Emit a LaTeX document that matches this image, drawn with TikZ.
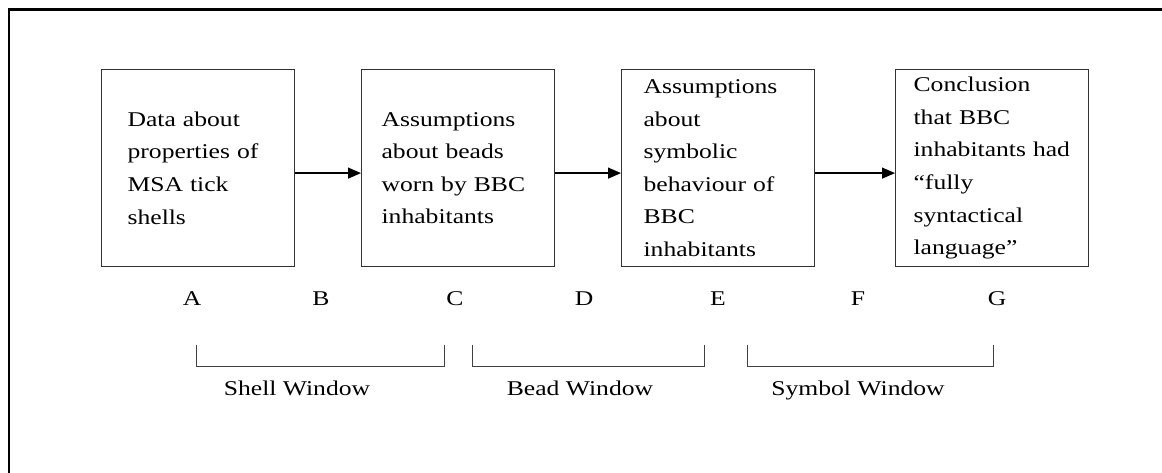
\documentclass[tikz,border=0pt]{standalone}
\usepackage{fontspec}
\setmainfont[FakeStretch=1.22]{Liberation Serif}
\usetikzlibrary{arrows.meta}
\begin{document}
\begin{tikzpicture}[x=1pt,y=-1pt,
  stagebox/.style={draw=black!80, line width=1.2pt, minimum width=193pt, minimum height=197pt,
    inner sep=0pt, align=left, anchor=north west,
    font=\fontsize{21}{32.6}\selectfont},
  flow/.style={line width=1.3pt, -{Triangle[length=13pt,width=11pt]}},
  letter/.style={anchor=base, font=\fontsize{21}{25}\selectfont, inner sep=0pt},
  winlabel/.style={anchor=base, font=\fontsize{21}{25}\selectfont, inner sep=0pt},
  bracket/.style={draw=black!75, line width=1pt},
  frame/.style={line width=2.6pt}
]
\useasboundingbox (0,0) rectangle (1162,473);
\fill[white] (0,0) rectangle (1162,473);
% outer frame (only top and left visible)
\coordinate (fTL) at (9,9.5);
\coordinate (fTR) at (1162,9.5);
\coordinate (fBL) at (9,473);
\draw[frame] (fTR) -- (fTL) -- (fBL);

% boxes
\node[stagebox, text width=141pt] (b1) at (101,69) {Data about\\properties of\\MSA tick\\shells};
\node[stagebox, text width=153pt] (b2) at (361,69) {Assumptions\\about beads\\worn by BBC\\inhabitants};
\node[stagebox, text width=149pt] (b3) at (621,69) {Assumptions\\about\\symbolic\\behaviour of\\BBC\\inhabitants};
\node[stagebox, text width=157pt] (b4) at (895,69) {Conclusion\\that BBC\\inhabitants had\\“fully\\syntactical\\language”};

% arrows
\draw[flow] ([yshift=-5pt]b1.east) -- ([yshift=-5pt]b2.west);
\draw[flow] ([yshift=-5pt]b2.east) -- ([yshift=-5pt]b3.west);
\draw[flow] ([yshift=-5pt]b3.east) -- ([yshift=-5pt]b4.west);

% letters
\node[letter] (A) at (192,305) {A};
\node[letter] (B) at (321,305) {B};
\node[letter] (C) at (455,305) {C};
\node[letter] (D) at (584,305) {D};
\node[letter] (E) at (718,305) {E};
\node[letter] (F) at (858,305) {F};
\node[letter] (G) at (997,305) {G};

% brackets
\coordinate (s1) at (196,345); \coordinate (s2) at (444,345);
\coordinate (d1) at (472,345); \coordinate (d2) at (704,345);
\coordinate (y1) at (747,345); \coordinate (y2) at (993,345);
\draw[bracket] (s1) -- ++(0,21) -| (s2);
\draw[bracket] (d1) -- ++(0,21) -| (d2);
\draw[bracket] (y1) -- ++(0,21) -| (y2);

% window labels
\node[winlabel] (sw) at (297,395) {Shell Window};
\node[winlabel] (bw) at (580,395) {Bead Window};
\node[winlabel] (yw) at (858,395) {Symbol Window};
\end{tikzpicture}
\end{document}
